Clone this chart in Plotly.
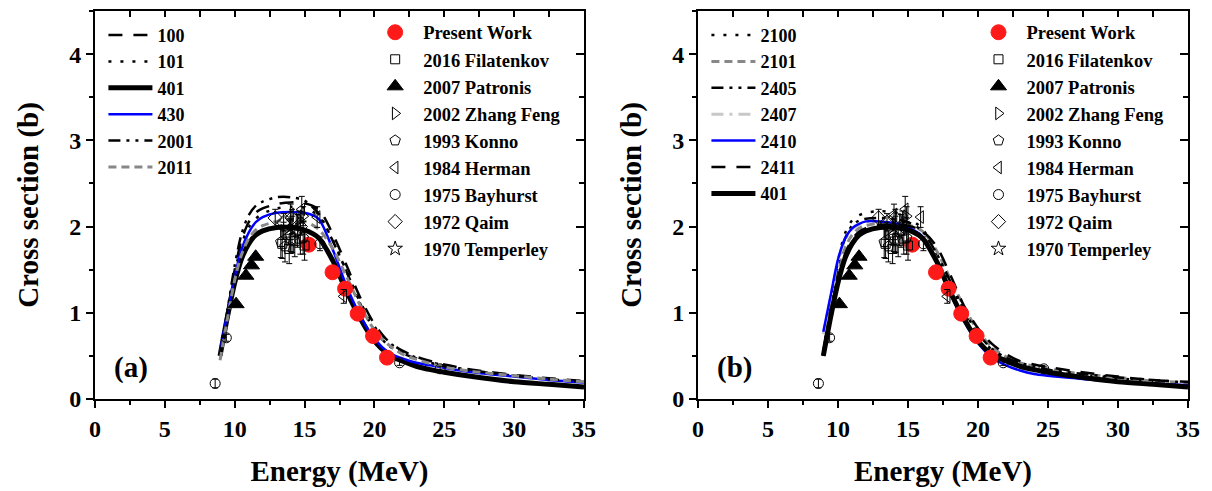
import plotly.graph_objects as go

FONT = "Liberation Serif"

# ---------------- data ----------------
energy = [8.95, 9.5, 10, 10.5, 11, 11.5, 12, 13, 14, 15, 16, 17, 18, 19, 20, 21, 22, 23, 24, 25, 27, 30, 32.5, 35]

a_100 = [0.50, 1.02, 1.50, 1.85, 2.05, 2.16, 2.21, 2.26, 2.28, 2.27, 2.20, 1.92, 1.55, 1.17, 0.87, 0.67, 0.56, 0.49, 0.44, 0.40, 0.34, 0.28, 0.24, 0.21]
a_101 = [0.50, 1.00, 1.46, 1.80, 1.99, 2.09, 2.15, 2.21, 2.23, 2.22, 2.12, 1.85, 1.48, 1.12, 0.84, 0.66, 0.55, 0.48, 0.43, 0.39, 0.33, 0.27, 0.23, 0.20]
a_401 = [0.50, 0.97, 1.35, 1.63, 1.80, 1.90, 1.95, 1.99, 1.99, 1.96, 1.87, 1.61, 1.25, 0.93, 0.67, 0.52, 0.44, 0.38, 0.34, 0.31, 0.26, 0.20, 0.17, 0.14]
a_430 = [0.55, 1.02, 1.42, 1.74, 1.93, 2.05, 2.11, 2.16, 2.17, 2.16, 2.09, 1.74, 1.31, 0.96, 0.70, 0.54, 0.47, 0.42, 0.39, 0.36, 0.31, 0.26, 0.22, 0.19]
a_2001 = [0.50, 1.05, 1.55, 1.92, 2.13, 2.24, 2.29, 2.34, 2.34, 2.30, 2.15, 1.84, 1.48, 1.10, 0.80, 0.62, 0.53, 0.47, 0.42, 0.38, 0.33, 0.27, 0.23, 0.20]
a_2011 = [0.45, 0.95, 1.38, 1.68, 1.86, 1.96, 2.01, 2.06, 2.08, 2.06, 1.97, 1.75, 1.42, 1.08, 0.80, 0.63, 0.52, 0.46, 0.41, 0.37, 0.32, 0.27, 0.23, 0.20]

b_2100 = [0.55, 1.10, 1.60, 1.92, 2.07, 2.13, 2.16, 2.18, 2.16, 2.10, 1.98, 1.70, 1.35, 1.00, 0.74, 0.57, 0.47, 0.41, 0.37, 0.33, 0.29, 0.24, 0.21, 0.18]
b_2101 = [0.50, 1.00, 1.45, 1.75, 1.90, 1.98, 2.01, 2.04, 2.04, 2.02, 1.95, 1.73, 1.40, 1.07, 0.79, 0.60, 0.49, 0.42, 0.38, 0.35, 0.30, 0.25, 0.21, 0.19]
b_2405 = [0.55, 1.08, 1.55, 1.86, 2.01, 2.07, 2.09, 2.10, 2.09, 2.05, 1.95, 1.70, 1.37, 1.03, 0.76, 0.58, 0.48, 0.42, 0.38, 0.34, 0.30, 0.25, 0.22, 0.19]
b_2407 = [0.75, 1.20, 1.60, 1.84, 1.97, 2.02, 2.05, 2.05, 2.03, 1.99, 1.89, 1.62, 1.25, 0.92, 0.66, 0.49, 0.40, 0.34, 0.30, 0.28, 0.25, 0.21, 0.18, 0.16]
b_2410 = [0.78, 1.22, 1.62, 1.86, 1.98, 2.03, 2.06, 2.06, 2.04, 1.99, 1.89, 1.60, 1.23, 0.90, 0.65, 0.48, 0.39, 0.33, 0.29, 0.27, 0.24, 0.20, 0.18, 0.16]
b_2411 = [0.50, 0.95, 1.38, 1.68, 1.85, 1.94, 1.98, 2.02, 2.02, 2.01, 1.95, 1.78, 1.45, 1.08, 0.82, 0.64, 0.52, 0.44, 0.40, 0.37, 0.32, 0.26, 0.22, 0.20]
b_401 = a_401

# experimental data
present_e = [15.3, 17.0, 17.9, 18.8, 19.9, 20.9]
present_y = [1.79, 1.47, 1.28, 0.99, 0.73, 0.48]

filat_e = [13.4, 13.9, 14.3, 14.7, 15.0]
filat_y = [1.80, 1.74, 1.83, 1.86, 1.78]
filat_err = [0.17, 0.17, 0.18, 0.18, 0.17]

patron_e = [10.1, 10.8, 11.2, 11.5]
patron_y = [1.10, 1.43, 1.55, 1.65]

zhang_e = [13.5, 14.1, 14.6, 14.9]
zhang_y = [1.95, 2.02, 2.08, 2.12]
zhang_err = [0.10, 0.10, 0.10, 0.11]

konno_e = [13.3, 13.6, 14.0, 14.5, 14.9]
konno_y = [1.82, 1.77, 1.90, 1.95, 1.87]
konno_err = [0.18, 0.18, 0.19, 0.19, 0.19]

herman_e = [14.0, 14.8, 15.9, 17.8]
herman_y = [2.14, 2.20, 2.11, 1.19]
herman_err = [0.12, 0.15, 0.12, 0.08]

bay_e = [8.6, 9.4, 16.1, 21.8, 24.7]
bay_y = [0.18, 0.71, 1.80, 0.42, 0.35]
bay_err = [0.05, 0.04, 0.08, 0.03, 0.03]

qaim_e = [12.9, 13.5, 14.1, 14.7]
qaim_y = [2.10, 2.05, 2.10, 2.00]
qaim_err = [0.10, 0.10, 0.10, 0.10]

temp_e = [14.1]
temp_y = [1.85]
temp_err = [0.15]

tick_vals_x = [0, 5, 10, 15, 20, 25, 30, 35]
tick_vals_y = [0, 1, 2, 3, 4]

# ---------------- figure ----------------
fig = go.Figure()

def add_line(name, y, xa, ya, leg, color, width, dash):
    fig.add_trace(go.Scatter(
        x=energy, y=y, name=name, mode="lines",
        line=dict(color=color, width=width, dash=dash, shape="spline", smoothing=0.8),
        xaxis=xa, yaxis=ya, legend=leg, hoverinfo="skip"))

LONG = "14px,11px"
DOT = "3px,9px"
DDOT = "12px,6px,3px,6px,3px,6px"
SDASH = "8px,5px"
DASHDOT = "12px,6px,3px,6px"

# panel (a)
add_line("100", a_100, "x", "y", "legend", "black", 2.5, LONG)
add_line("101", a_101, "x", "y", "legend", "black", 2.5, DOT)
add_line("401", a_401, "x", "y", "legend", "black", 5, "solid")
add_line("430", a_430, "x", "y", "legend", "#0000ff", 2.5, "solid")
add_line("2001", a_2001, "x", "y", "legend", "black", 2.5, DDOT)
add_line("2011", a_2011, "x", "y", "legend", "#888888", 3, SDASH)

# panel (b)
add_line("2100", b_2100, "x2", "y2", "legend3", "black", 2.5, DOT)
add_line("2101", b_2101, "x2", "y2", "legend3", "#888888", 3, SDASH)
add_line("2405", b_2405, "x2", "y2", "legend3", "black", 2.5, DDOT)
add_line("2407", b_2407, "x2", "y2", "legend3", "#c8c8c8", 3, DASHDOT)
add_line("2410", b_2410, "x2", "y2", "legend3", "#0000ff", 2.5, "solid")
add_line("2411", b_2411, "x2", "y2", "legend3", "black", 2.5, LONG)
add_line("401", b_401, "x2", "y2", "legend3", "black", 5, "solid")

exp_sets = [
    ("Present Work", present_e, present_y, None, "circle", 15, "#ff1a1a"),
    ("2016 Filatenkov", filat_e, filat_y, filat_err, "square-open", 9, "black"),
    ("2007 Patronis", patron_e, patron_y, None, "triangle-up", 14, "black"),
    ("2002 Zhang Feng", zhang_e, zhang_y, zhang_err, "triangle-right-open", 11, "black"),
    ("1993 Konno", konno_e, konno_y, konno_err, "pentagon-open", 11, "black"),
    ("1984 Herman", herman_e, herman_y, herman_err, "triangle-left-open", 11, "black"),
    ("1975 Bayhurst", bay_e, bay_y, bay_err, "circle-open", 10, "black"),
    ("1972 Qaim", qaim_e, qaim_y, qaim_err, "diamond-open", 11, "black"),
    ("1970 Temperley", temp_e, temp_y, temp_err, "star-open", 11, "black"),
]

for xa, ya, leg in [("x", "y", "legend2"), ("x2", "y2", "legend4")]:
    for name, ex, ey, err, sym, size, col in exp_sets:
        fig.add_trace(go.Scatter(
            x=ex, y=ey, name=name, mode="markers",
            marker=dict(symbol=sym, size=size, color=col, line=dict(width=1, color=col)),
            error_y=(dict(type="data", array=err, visible=True, color="black", thickness=1, width=3)
                     if err is not None else None),
            xaxis=xa, yaxis=ya, legend=leg, hoverinfo="skip"))

# dummy traces for mirrored inside-tick axes
fig.add_trace(go.Scatter(x=[None], y=[None], xaxis="x3", yaxis="y3", showlegend=False, hoverinfo="skip"))
fig.add_trace(go.Scatter(x=[None], y=[None], xaxis="x4", yaxis="y4", showlegend=False, hoverinfo="skip"))

dom_a = [0.0, 0.4474]
dom_b = [0.5517, 1.0]

tickfont = dict(family=FONT, size=24, color="black", weight="bold")
titlefont = dict(family=FONT, size=29, color="black", weight="bold")

def xaxis(dom, anchor):
    return dict(domain=dom, anchor=anchor, range=[0, 35], tickvals=tick_vals_x,
                ticks="outside", ticklen=7, tickwidth=2, tickcolor="black",
                minor=dict(dtick=2.5, ticks="outside", ticklen=4, tickwidth=2, tickcolor="black"),
                showline=True, linewidth=2, linecolor="black", mirror=True,
                showgrid=False, zeroline=False, tickfont=tickfont,
                title=dict(text="Energy (MeV)", font=titlefont, standoff=20))

def yaxis(anchor):
    return dict(domain=[0, 1], anchor=anchor, range=[0, 4.5], tickvals=tick_vals_y,
                ticks="outside", ticklen=7, tickwidth=2, tickcolor="black",
                minor=dict(dtick=0.5, ticks="outside", ticklen=4, tickwidth=2, tickcolor="black"),
                showline=True, linewidth=2, linecolor="black", mirror=True,
                showgrid=False, zeroline=False, tickfont=tickfont,
                title=dict(text="Cross section (b)", font=titlefont, standoff=22))

def xtop(over, anchor):
    return dict(overlaying=over, side="top", anchor=anchor, range=[0, 35], tickvals=tick_vals_x,
                ticks="inside", ticklen=6, tickwidth=2, tickcolor="black",
                minor=dict(dtick=2.5, ticks="inside", ticklen=6, tickwidth=2, tickcolor="black"),
                showticklabels=False, showgrid=False, zeroline=False, showline=False)

def yright(over, anchor):
    return dict(overlaying=over, side="right", anchor=anchor, range=[0, 4.5], tickvals=tick_vals_y,
                ticks="inside", ticklen=8, tickwidth=2, tickcolor="black",
                minor=dict(dtick=0.5, ticks="inside", ticklen=5, tickwidth=2, tickcolor="black"),
                showticklabels=False, showgrid=False, zeroline=False, showline=False)

legfont_l = dict(family=FONT, size=18, color="black", weight="bold")
legfont_r = dict(family=FONT, size=18.5, color="black", weight="bold")

fig.update_layout(
    width=1212, height=491,
    margin=dict(l=95, r=24, t=9, b=89),
    paper_bgcolor="white", plot_bgcolor="white",
    font=dict(family=FONT, color="black"),
    xaxis=xaxis(dom_a, "y"), yaxis=yaxis("x"),
    xaxis2=xaxis(dom_b, "y2"), yaxis2=yaxis("x2"),
    xaxis3=xtop("x", "y"), yaxis3=yright("y", "x"),
    xaxis4=xtop("x2", "y2"), yaxis4=yright("y2", "x2"),
    legend=dict(x=0.0077, y=0.985, xanchor="left", yanchor="top", font=legfont_l,
                bgcolor="rgba(0,0,0,0)", itemwidth=44),
    legend2=dict(x=0.249, y=0.993, xanchor="left", yanchor="top", font=legfont_r,
                 bgcolor="rgba(0,0,0,0)", itemwidth=46),
    legend3=dict(x=0.5594, y=0.985, xanchor="left", yanchor="top", font=legfont_l,
                 bgcolor="rgba(0,0,0,0)", itemwidth=44),
    legend4=dict(x=0.801, y=0.993, xanchor="left", yanchor="top", font=legfont_r,
                 bgcolor="rgba(0,0,0,0)", itemwidth=46),
    showlegend=True,
    annotations=[
        dict(text="(a)", x=2.6, y=0.37, xref="x", yref="y", showarrow=False,
             font=dict(family=FONT, size=29, color="black", weight="bold")),
        dict(text="(b)", x=2.6, y=0.37, xref="x2", yref="y2", showarrow=False,
             font=dict(family=FONT, size=29, color="black", weight="bold")),
    ],
)

fig.write_html("out.html")
